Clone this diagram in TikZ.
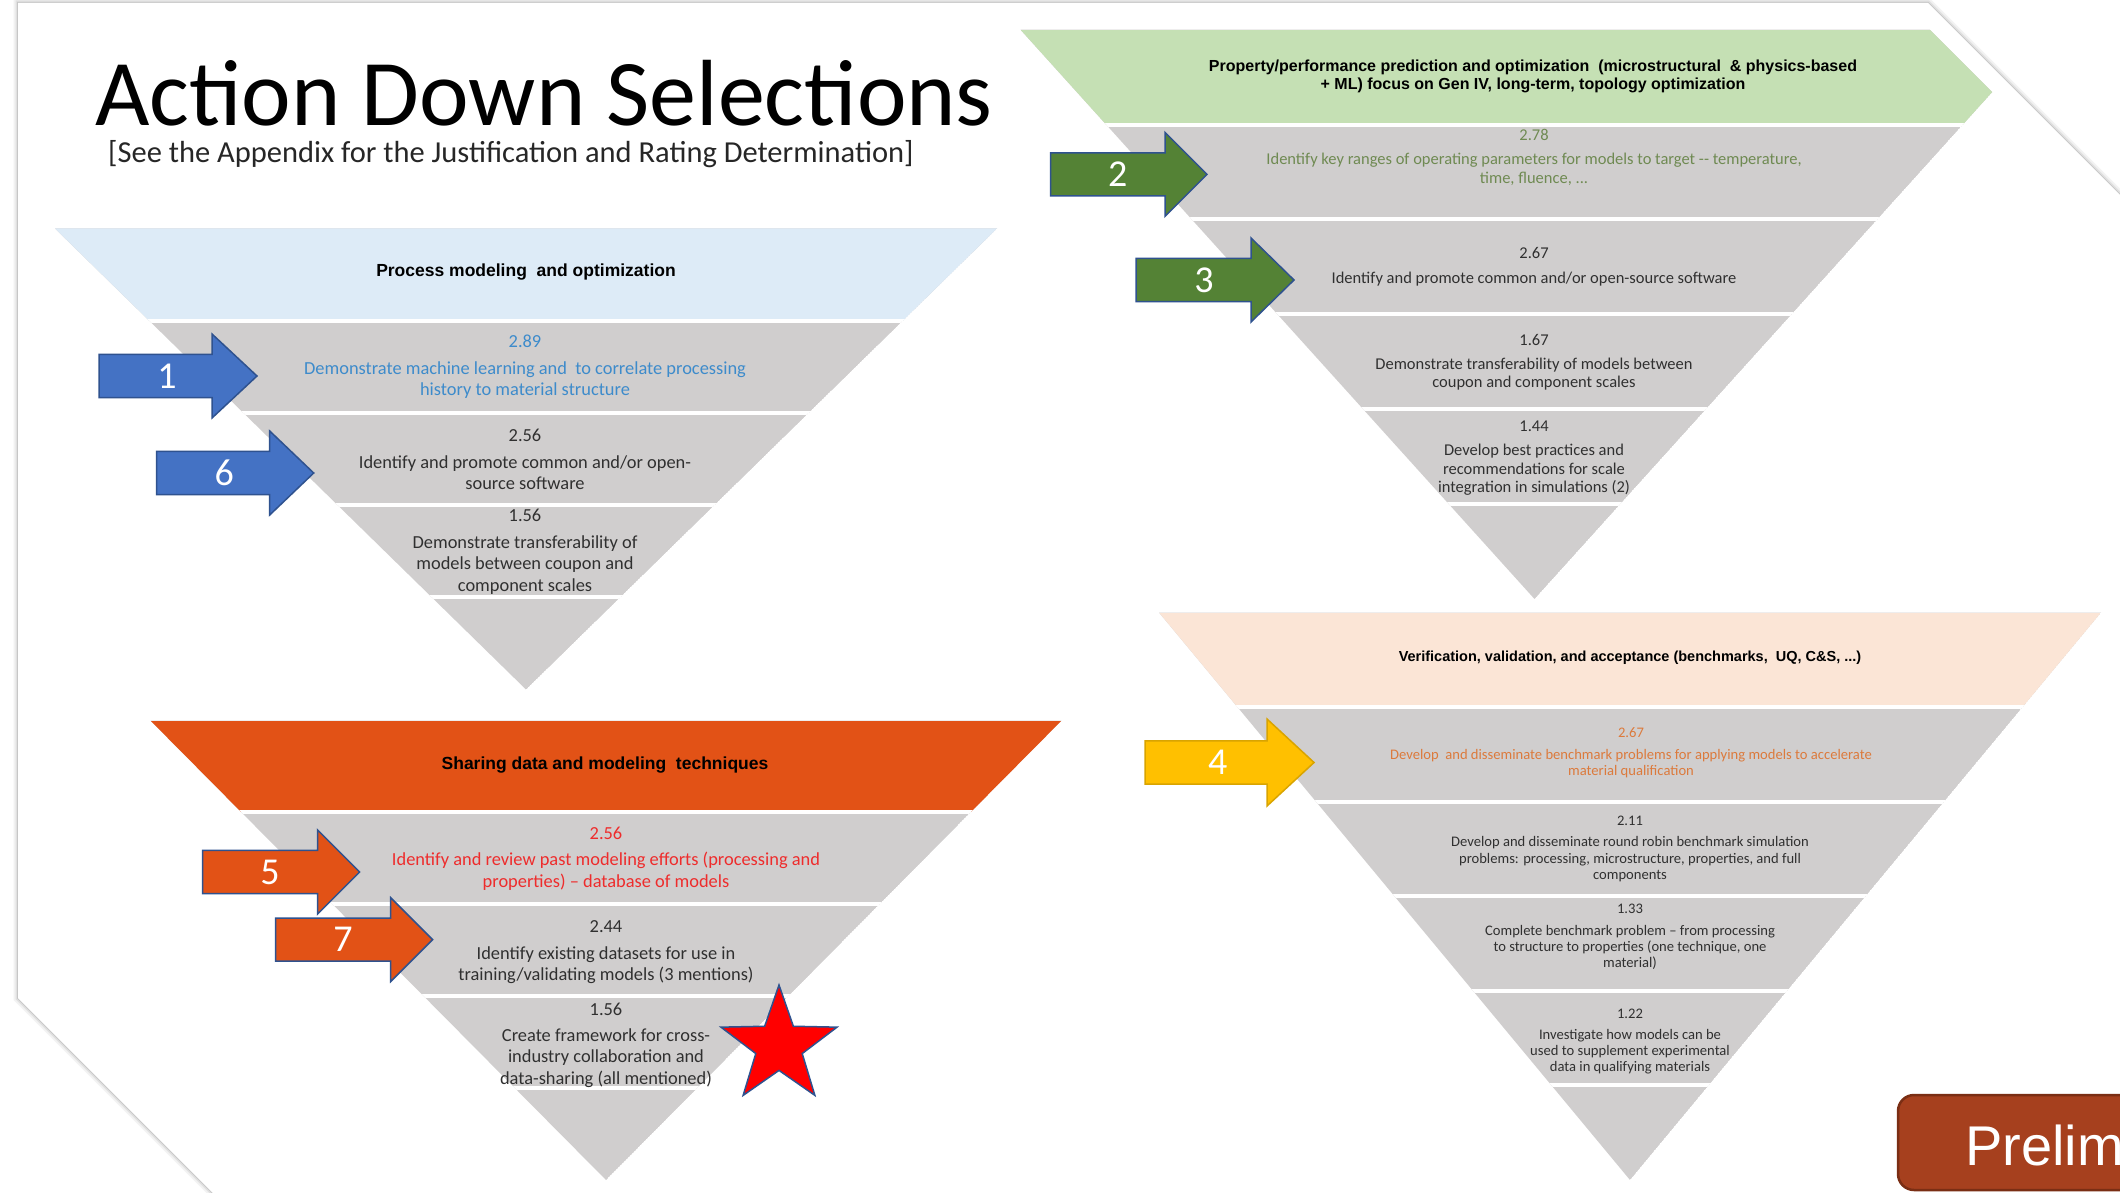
\documentclass[tikz,border=0pt]{standalone}
\usepackage{fontspec}
\setmainfont{Carlito}
\newfontfamily\arialf{Liberation Sans}
\usetikzlibrary{shapes.geometric}

\definecolor{hdrblue}{HTML}{DDEBF7}
\definecolor{hdrgreen}{HTML}{C5E0B4}
\definecolor{hdrorange}{RGB}{226,82,22}
\definecolor{hdrpeach}{HTML}{FBE5D6}
\definecolor{bandgray}{HTML}{D0CECE}
\definecolor{arrblue}{HTML}{4472C4}
\definecolor{arrgreen}{HTML}{548235}
\definecolor{arryellow}{HTML}{FFC000}
\definecolor{arrline}{HTML}{2F528F}
\definecolor{yline}{HTML}{D9A400}
\definecolor{txtblue}{HTML}{3D8BCB}
\definecolor{txtgreen}{HTML}{6F8A52}
\definecolor{txtred}{HTML}{EE2C2C}
\definecolor{txtorange}{HTML}{DC7A3C}
\definecolor{txtdark}{HTML}{303030}
\definecolor{prelimfill}{RGB}{166,64,30}
\definecolor{prelimline}{RGB}{122,46,20}

% #1 cx, #2 top y, #3 apex y, #4 top half width, #5 number of bands, #6 header colour
\newcommand{\funnel}[6]{%
  \begin{scope}
    \clip (#1-#4,#2) -- (#1+#4,#2) -- (#1,#3) -- cycle;
    \fill[bandgray] (#1-#4,#2) -- (#1+#4,#2) -- (#1,#3) -- cycle;
    \pgfmathsetmacro\bh{(#3-#2)/#5}
    \pgfmathtruncatemacro\nm{#5-1}
    \fill[#6] (#1-#4,#2) rectangle (#1+#4,#2+\bh);
    \foreach \i in {1,...,\nm}{
      \draw[white, line width=4] (#1-#4,#2+\i*\bh) -- (#1+#4,#2+\i*\bh);
    }
  \end{scope}}

% #1 fill, #2 line, #3 tip x, #4 tip y, #5 length, #6 head length, #7 head half height, #8 label
\newcommand{\bigarrow}[8]{%
  \draw[arrowbody, fill=#1, draw=#2] (#3,#4) -- ++(-#6,-#7) -- ++(0,{#7-21.6})
    -- ++({-(#5-#6)},0) -- ++(0,43.2) -- ++({#5-#6},0) -- ++(0,{#7-21.6}) -- cycle;
  \node[arrownum] (n#8) at ({#3-0.57*#5},#4) {#8};}

\begin{document}
\begin{tikzpicture}[x=1pt,y=-1pt,
  arrowbody/.style={line width=1.5, line join=miter},
  arrownum/.style={text=white, font=\fontsize{38}{40}\selectfont, inner sep=0},
  hdrA/.style={font=\arialf\bfseries\fontsize{17.5}{21}\selectfont, text=black, inner sep=0, align=center},
  hdrB/.style={font=\arialf\bfseries\fontsize{16}{18}\selectfont, text=black, inner sep=0, align=center},
  hdrC/.style={font=\arialf\bfseries\fontsize{14.5}{16}\selectfont, text=black, inner sep=0, align=center},
  bandA/.style={font=\fontsize{18.4}{21.5}\selectfont, text=txtdark, inner sep=0, align=center},
  bandB/.style={font=\fontsize{16.5}{18.5}\selectfont, text=txtdark, inner sep=0, align=center},
  bandC/.style={font=\fontsize{18.4}{21.5}\selectfont, text=txtdark, inner sep=0, align=center},
  bandD/.style={font=\fontsize{14.6}{16.3}\selectfont, text=txtdark, inner sep=0, align=center}
]
\useasboundingbox (0,0) rectangle (2120,1193);
\clip (0,0) rectangle (2120,1193);
\fill[white] (0,0) rectangle (2120,1193);

% page with shadow and cut corners
\def\pagepath{(2200,275) -- (1928,3) -- (18,3) -- (18,998) -- (300,1280)}
\draw[line width=9, black!5] \pagepath;
\draw[line width=5, black!12] \pagepath;
\draw[line width=2, black!22] \pagepath;
\fill[white] (18,3) -- (1928,3) -- (2300,375) -- (2300,1400) -- (420,1400) -- (18,998) -- cycle;

% title
\node[anchor=base west, inner sep=0, text depth=0pt, font=\fontsize{94}{100}\selectfont] (title) at (95,126) {Action Down Selections};
\node[anchor=base west, inner sep=0, font=\fontsize{30.5}{32}\selectfont, text=black!85] (sub) at (108,163) {[See the Appendix for the Justification and Rating Determination]};

% funnel 1
\funnel{526}{228.5}{689.5}{471}{5}{hdrblue}
\node[hdrA] (f1h) at (526,272) {Process modeling\ \ and optimization};
\node[bandA, text=txtblue] (f1a) at (525,367) {2.89\\[5pt]Demonstrate machine learning and\ \ to correlate processing\\history to material structure};
\node[bandA] (f1b) at (525,459.5) {2.56\\[5pt]Identify and promote common and/or open-\\source software};
\node[bandA] (f1c) at (525,552) {1.56\\[5pt]Demonstrate transferability of\\models between coupon and\\component scales};

% funnel 2
\begin{scope}
  \clip (0,0) -- (1900,0) -- (2300,400) -- (2300,1300) -- (0,1300) -- cycle;
  \funnel{1534.5}{29.7}{599}{514}{6}{hdrgreen}
\end{scope}
\node[hdrB] (f2h) at (1533,76) {Property/performance prediction and optimization\ \ (microstructural\ \ \& physics-based\\+ ML) focus on Gen IV, long-term, topology optimization};
\node[bandB, text=txtgreen] (f2a) at (1534,157) {2.78\\[6pt]Identify key ranges of operating parameters for models to target -{}- temperature,\\time, fluence, ...};
\node[bandB] (f2b) at (1534,267) {2.67\\[6pt]Identify and promote common and/or open-source software};
\node[bandB] (f2c) at (1534,362.5) {1.67\\[5pt]Demonstrate transferability of models between\\coupon and component scales};
\node[bandB] (f2d) at (1534,458) {1.44\\[6pt]Develop best practices and\\recommendations for scale\\integration in simulations (2)};

% funnel 3
\funnel{606}{720.6}{1180}{455.5}{5}{hdrorange}
\node[hdrA] (f3h) at (605,765) {Sharing data and modeling\ \ techniques};
\node[bandC, text=txtred] (f3a) at (606,858.5) {2.56\\[5pt]Identify and review past modeling efforts (processing and\\properties) – database of models};
\node[bandC] (f3b) at (606,952.5) {2.44\\[5pt]Identify existing datasets for use in\\training/validating models (3 mentions)};
\node[bandC] (f3c) at (606,1045.5) {1.56\\[4pt]Create framework for cross-\\industry collaboration and\\data-sharing (all mentioned)};

% funnel 4
\funnel{1630}{612.5}{1180}{471}{6}{hdrpeach}
\node[hdrC] (f4h) at (1630,658) {Verification, validation, and acceptance (benchmarks,\ \ UQ, C\&S, ...)};
\node[bandD, text=txtorange] (f4a) at (1631,753) {2.67\\[5pt]Develop\ \ and disseminate benchmark problems for applying models to accelerate\\material qualification};
\node[bandD] (f4b) at (1630,849) {2.11\\[5pt]Develop and disseminate round robin benchmark simulation\\problems: processing, microstructure, properties, and full\\components};
\node[bandD] (f4c) at (1630,937) {1.33\\[5pt]Complete benchmark problem – from processing\\to structure to properties (one technique, one\\material)};
\node[bandD] (f4d) at (1630,1041.5) {1.22\\[5pt]Investigate how models can be\\used to supplement experimental\\data in qualifying materials};

% arrows
\bigarrow{arrblue}{arrline}{257}{376}{158}{45}{42}{1}
\bigarrow{arrblue}{arrline}{313.7}{473}{157}{44}{42}{6}
\bigarrow{arrgreen}{arrline}{1207}{174.4}{156.5}{42}{42}{2}
\bigarrow{arrgreen}{arrline}{1294}{280}{158}{43}{42}{3}
\bigarrow{arryellow}{yline}{1314}{762.5}{169}{47}{43.5}{4}
\bigarrow{hdrorange}{arrline}{359.6}{872}{157}{42}{42}{5}
\bigarrow{hdrorange}{arrline}{432.6}{939.6}{157}{42}{42}{7}

% star
\node[star, star points=5, star point ratio=2.5, minimum size=122, inner sep=0, fill=red, draw=arrline, line width=1.5] (star) at (779,1046) {};

% preliminary tag
\draw[rounded corners=16, fill=prelimfill, draw=prelimline, line width=2.5] (1898,1095) rectangle (2220,1190);
\node[anchor=west, inner sep=0, text=white, font=\arialf\fontsize{56}{60}\selectfont] (prelim) at (1965,1145) {Prelim};
\end{tikzpicture}
\end{document}
